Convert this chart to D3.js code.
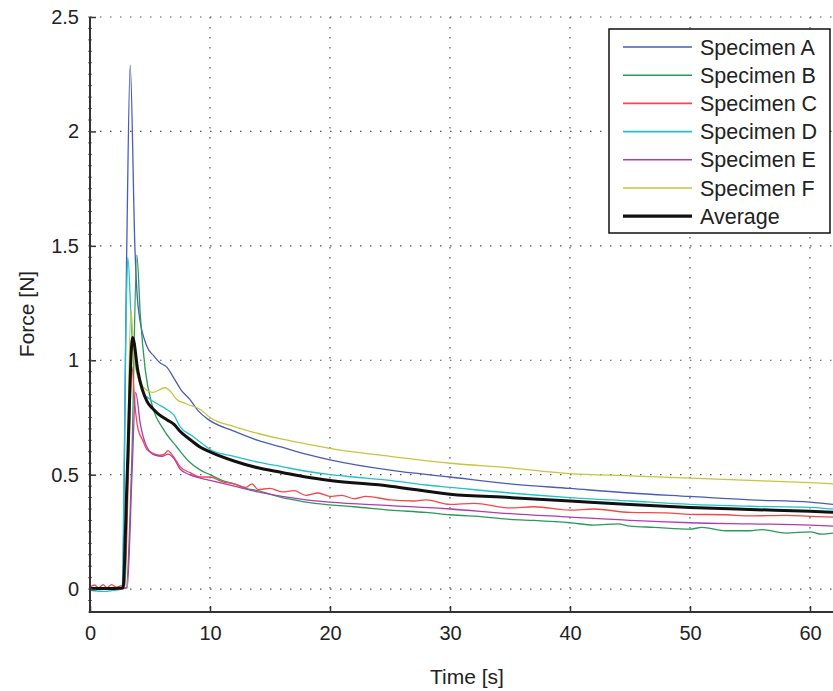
<!DOCTYPE html>
<html lang="en">
<head>
  <meta charset="UTF-8">
  <title>Force vs Time</title>
  <script src="https://d3js.org/d3.v7.min.js"></script>
  <style>
    body { margin: 0; padding: 0; background: #fff; }
    svg { display: block; font-family: "Liberation Sans", Arial, sans-serif; }
    .grid line { stroke: #555; stroke-width: 1.2; stroke-dasharray: 1.5 8.5; }
  </style>
</head>
<body>
  <svg id="chart" width="833" height="691"></svg>
  <script>
    // [time s, force N]
    const specimenA = [[0,0],[1,0.005],[2,0],[2.7,0.005],[3.06,1.48],[3.35,2.29],[3.75,1.48],[4.0,1.24],[4.75,1.06],[5.3,1.02],[5.8,0.99],[6.4,0.97],[6.9,0.93],[7.6,0.87],[8.3,0.83],[9.0,0.78],[9.75,0.745],[12,0.69],[14,0.65],[16,0.62],[18,0.59],[20,0.565],[25,0.52],[30,0.49],[35,0.46],[40,0.44],[45,0.42],[50,0.405],[55,0.39],[60,0.38],[62,0.37],[65,0.365]];
    const specimenB = [[0,0.005],[1,0],[2,0.005],[3.0,0.005],[3.5,0.6],[3.9,1.46],[4.2,1.19],[4.6,0.96],[5.2,0.80],[6.1,0.70],[7.25,0.62],[8.2,0.56],[9.2,0.52],[10,0.50],[11,0.475],[12,0.46],[13,0.44],[14,0.43],[15,0.415],[16,0.40],[17,0.39],[18,0.38],[20,0.368],[22,0.36],[25,0.345],[28,0.335],[30,0.325],[33,0.315],[35,0.305],[37,0.3],[40,0.29],[42,0.28],[44,0.285],[45,0.275],[47,0.27],[50,0.262],[51,0.27],[53,0.255],[55,0.255],[56,0.26],[58,0.245],[60,0.25],[61,0.24],[62,0.245],[65,0.235]];
    const specimenC = [[0,0.01],[0.4,0.018],[0.7,0.005],[1.1,0.02],[1.4,0.006],[1.8,0.02],[2.2,0.008],[2.6,0.015],[2.9,0.01],[3.2,0.5],[3.5,0.97],[3.75,0.8],[4,0.70],[4.4,0.65],[4.75,0.61],[5.4,0.59],[5.8,0.585],[6.2,0.59],[6.5,0.605],[6.8,0.59],[7.2,0.56],[7.5,0.535],[8.3,0.51],[9.2,0.49],[10,0.49],[11,0.47],[12,0.46],[13,0.445],[13.5,0.46],[14,0.435],[15,0.44],[16,0.425],[17,0.43],[18,0.41],[19,0.42],[20,0.405],[21,0.41],[22,0.395],[23,0.405],[25,0.39],[27,0.385],[28,0.39],[30,0.37],[32,0.375],[35,0.355],[37,0.36],[40,0.345],[42,0.35],[45,0.335],[48,0.333],[50,0.327],[53,0.325],[55,0.32],[58,0.322],[60,0.318],[62,0.314],[65,0.31]];
    const specimenD = [[0,-0.005],[1,-0.01],[2,-0.005],[2.65,0],[3.05,1.3],[3.15,1.45],[3.5,1.1],[4.0,0.93],[4.4,0.86],[5,0.83],[5.6,0.81],[6.4,0.785],[7.0,0.76],[7.5,0.71],[8.5,0.67],[9.75,0.62],[10,0.61],[12,0.58],[14,0.555],[16,0.535],[18,0.515],[20,0.50],[22,0.49],[25,0.475],[28,0.455],[30,0.445],[35,0.42],[40,0.40],[45,0.385],[50,0.37],[55,0.362],[60,0.357],[62,0.35],[65,0.345]];
    const specimenE = [[0,0],[1,0.005],[2,0],[3.1,0.005],[3.5,0.5],[3.8,0.86],[4.2,0.72],[4.75,0.62],[5.4,0.585],[6.0,0.58],[6.5,0.59],[7.0,0.57],[7.5,0.525],[8.3,0.50],[9.2,0.485],[10,0.475],[12,0.45],[14,0.425],[16,0.405],[18,0.39],[20,0.38],[25,0.365],[30,0.35],[35,0.33],[40,0.315],[45,0.30],[50,0.29],[55,0.285],[60,0.28],[62,0.275],[65,0.27]];
    const specimenF = [[0,0],[1,0.005],[2,0],[2.85,0.005],[3.1,0.5],[3.4,1.22],[3.7,1.0],[4.3,0.89],[5.25,0.86],[6.25,0.88],[6.6,0.87],[7.2,0.83],[8,0.81],[9.2,0.785],[10,0.75],[12,0.71],[14,0.68],[16,0.655],[18,0.635],[20,0.615],[25,0.58],[30,0.55],[35,0.53],[40,0.505],[45,0.495],[50,0.485],[55,0.475],[60,0.465],[62,0.46],[65,0.455]];
    const average = [[0,0.003],[1,0.003],[2,0.003],[2.75,0.005],[3.1,0.5],[3.55,1.10],[4,0.95],[4.75,0.82],[5.2,0.79],[5.7,0.765],[6.4,0.74],[7.0,0.72],[7.5,0.69],[8.3,0.655],[9.2,0.62],[10,0.60],[12,0.56],[14,0.53],[16,0.51],[18,0.49],[20,0.475],[25,0.45],[30,0.415],[35,0.40],[40,0.385],[45,0.37],[50,0.357],[55,0.348],[60,0.34],[62,0.336],[65,0.33]];

    const seriesNames = ["Specimen A", "Specimen B", "Specimen C", "Specimen D", "Specimen E", "Specimen F", "Average"];
    const seriesData = [specimenA, specimenB, specimenC, specimenD, specimenE, specimenF, average];
    const seriesColors = ["#4a5cb8", "#2a9a58", "#f4474b", "#22c2c8", "#b03cb0", "#c6c63c", "#111"];
    const seriesWidths = [1.3, 1.3, 1.3, 1.3, 1.3, 1.3, 3];

    const xTicks = [0, 10, 20, 30, 40, 50, 60];
    const yTicks = [0, 0.5, 1, 1.5, 2, 2.5];

    const svg = d3.select("#chart");
    const mLeft = 90, mTop = 17, mBottom = 612, mRight = 833;

    const x = d3.scaleLinear().domain([0, 65]).range([mLeft, mLeft + 12 * 65]);
    const y = d3.scaleLinear().domain([-0.1, 2.5]).range([mBottom, mTop]);

    svg.append("defs").append("clipPath").attr("id", "plot")
      .append("rect").attr("x", mLeft).attr("y", mTop)
      .attr("width", mRight - mLeft).attr("height", mBottom - mTop);

    // dotted grid
    const grid = svg.append("g").attr("class", "grid");
    grid.selectAll(".v").data(xTicks.slice(1)).join("line").attr("class", "v")
      .attr("x1", d => x(d)).attr("x2", d => x(d))
      .attr("y1", mTop).attr("y2", mBottom);
    grid.selectAll(".h").data(yTicks).join("line").attr("class", "h")
      .attr("x1", mLeft).attr("x2", mRight)
      .attr("y1", d => y(d)).attr("y2", d => y(d));

    // curves
    const line = d3.line().x(d => x(d[0])).y(d => y(d[1])).curve(d3.curveMonotoneX);
    const plot = svg.append("g").attr("clip-path", "url(#plot)");
    plot.selectAll("path").data(seriesData).join("path")
      .attr("d", line)
      .attr("fill", "none")
      .attr("stroke", (d, i) => seriesColors[i])
      .attr("stroke-width", (d, i) => seriesWidths[i])
      .attr("stroke-linejoin", "round");

    // axes
    const xAxis = d3.axisBottom(x).tickValues(xTicks).tickSize(-6).tickPadding(14).tickFormat(d3.format("d"));
    const yAxis = d3.axisLeft(y).tickValues(yTicks).tickSize(-6).tickPadding(11).tickFormat(d => d);

    const gx = svg.append("g").attr("transform", `translate(0,${mBottom})`).call(xAxis);
    const gy = svg.append("g").attr("transform", `translate(${mLeft},0)`).call(yAxis);
    [gx, gy].forEach(g => {
      g.select(".domain").remove();
      g.selectAll(".tick line").attr("stroke", "#333").attr("stroke-width", 1.5);
      g.selectAll("text").attr("font-size", 20).attr("fill", "#222")
        .attr("font-family", "'Liberation Sans', Arial, sans-serif");
    });

    // minor ticks on y
    svg.append("g").selectAll("line").data(d3.range(-0.1, 2.5001, 0.05)).join("line")
      .attr("x1", mLeft - 2).attr("x2", mLeft + 2)
      .attr("y1", d => y(d)).attr("y2", d => y(d))
      .attr("stroke", "#666").attr("stroke-width", 1);

    svg.append("line").attr("x1", mLeft).attr("x2", mLeft).attr("y1", mTop).attr("y2", mBottom + 1)
      .attr("stroke", "#333").attr("stroke-width", 2);
    svg.append("line").attr("x1", mLeft - 1).attr("x2", mRight).attr("y1", mBottom).attr("y2", mBottom)
      .attr("stroke", "#333").attr("stroke-width", 2);

    // axis titles
    svg.append("text").attr("x", 467).attr("y", 684).attr("text-anchor", "middle")
      .attr("font-size", 21).attr("fill", "#222").text("Time [s]");
    svg.append("text").attr("transform", "translate(34,314) rotate(-90)").attr("text-anchor", "middle")
      .attr("font-size", 21).attr("fill", "#222").text("Force [N]");

    // legend
    const legend = svg.append("g");
    legend.append("rect").attr("x", 609).attr("y", 29).attr("width", 221).attr("height", 204)
      .attr("fill", "#fff").attr("stroke", "#111").attr("stroke-width", 1.5);
    const rows = legend.selectAll(".row").data(seriesNames).join("g").attr("class", "row")
      .attr("transform", (d, i) => `translate(0,${47 + i * 28.2})`);
    rows.append("line").attr("x1", 623).attr("x2", 692)
      .attr("stroke", (d, i) => seriesColors[i])
      .attr("stroke-width", (d, i) => seriesWidths[i] + 0.3);
    rows.append("text").attr("x", 700).attr("dy", "0.35em")
      .attr("font-size", 21.5).attr("fill", "#222").text(d => d);
  </script>
</body>
</html>
